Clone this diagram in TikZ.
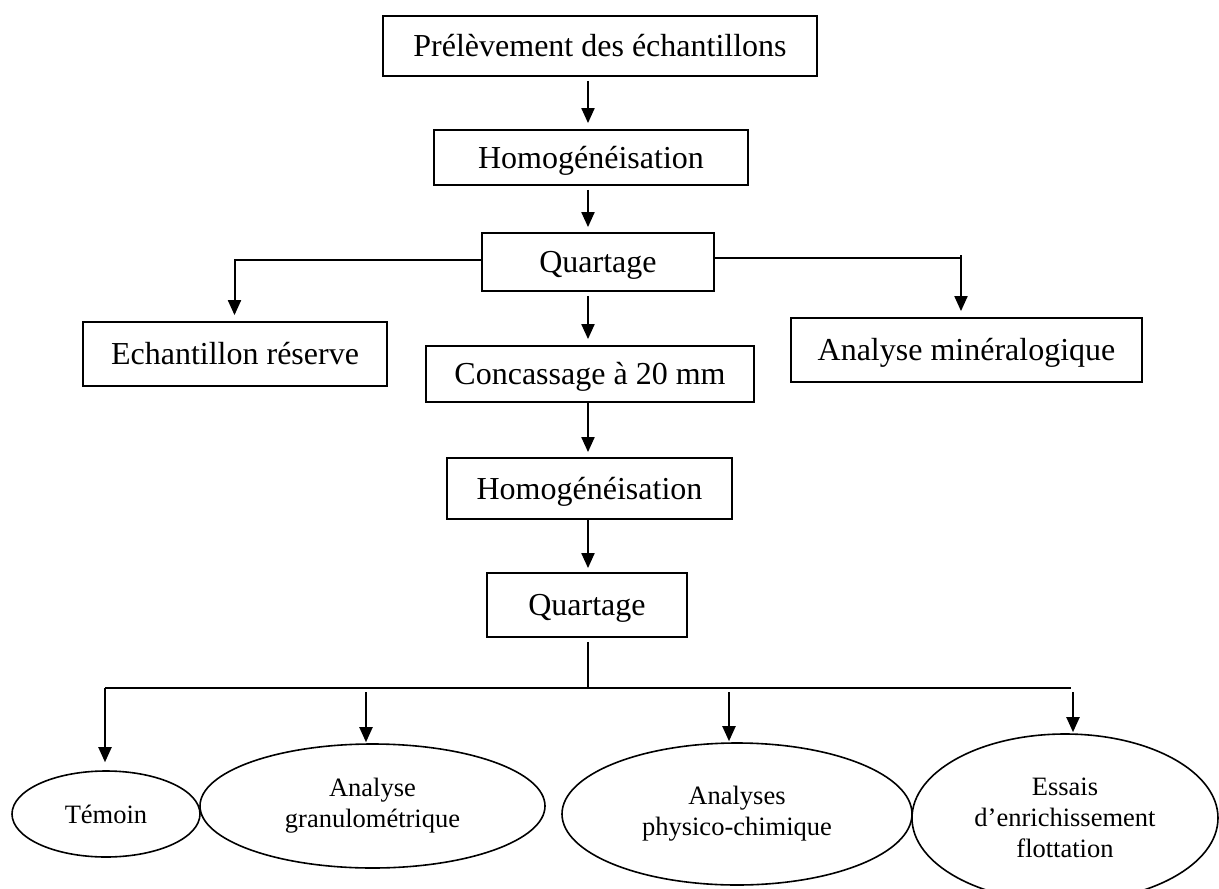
\documentclass[tikz,border=0pt]{standalone}
\usepackage{fontspec}
\setmainfont{Liberation Serif}
\usetikzlibrary{arrows.meta,shapes.geometric}
\begin{document}
\begin{tikzpicture}[x=1pt,y=-1pt,
  stepbox/.style={draw, rectangle, line width=1.8pt, inner sep=0pt,
    font=\fontsize{32}{36}\selectfont, text height=21.5pt, text depth=0pt},
  oval/.style={draw, ellipse, line width=1.6pt, inner sep=0pt, align=center,
    font=\fontsize{26.5}{31}\selectfont},
  link/.style={line width=2pt},
  arr/.style={link, -{Triangle[length=15pt,width=13pt]}}]
\useasboundingbox (0,0) rectangle (1219,889);

% main chain of boxes
\node[stepbox, minimum width=434pt, minimum height=60pt] (prel) at (600,46) {Prélèvement des échantillons};
\node[stepbox, minimum width=314pt, minimum height=55pt] (hom1) at (591,157.5) {Homogénéisation};
\node[stepbox, minimum width=232pt, minimum height=58pt] (qua1) at (598,262) {Quartage};
\node[stepbox, minimum width=304pt, minimum height=64pt] (ech) at (235,354) {Echantillon réserve};
\node[stepbox, minimum width=351pt, minimum height=64pt] (mine) at (966.5,350) {Analyse minéralogique};
\node[stepbox, minimum width=328pt, minimum height=56pt] (conc) at (590,374) {Concassage à 20 mm};
\node[stepbox, minimum width=285pt, minimum height=61pt] (hom2) at (589.5,488.5) {Homogénéisation};
\node[stepbox, minimum width=200pt, minimum height=64pt] (qua2) at (587,605) {Quartage};

% final analyses
\node[oval, minimum width=188pt, minimum height=86pt] (tem) at (106,814) {Témoin};
\node[oval, minimum width=345pt, minimum height=124pt] (gra) at (372.5,806) {Analyse\\granulométrique};
\node[oval, minimum width=350pt, minimum height=142pt] (phy) at (737,814) {Analyses\\physico-chimique};
\node[oval, minimum width=306pt, minimum height=168pt] (ess) at (1065,818) {Essais\\d’enrichissement\\flottation};

% connectors
\coordinate (spine) at (588,0);
\draw[arr, shorten <=4pt, shorten >=6pt] (prel.south -| spine) -- (hom1.north -| spine);
\draw[arr, shorten <=4pt, shorten >=5pt] (hom1.south -| spine) -- (qua1.north -| spine);

\coordinate (lt) at (234.5,260);
\draw[arr, shorten >=6pt] (qua1.west |- lt) -- (lt) -- (ech.north -| lt);
\coordinate (rt) at (961,258);
\coordinate (rtop) at (961,255);
\draw[link] (qua1.east |- rt) -- (rt);
\draw[arr, shorten >=6pt] (rtop) -- (mine.north -| rt);

\draw[arr, shorten <=4pt, shorten >=6pt] (qua1.south -| spine) -- (conc.north -| spine);
\draw[arr, shorten >=5pt] (conc.south -| spine) -- (hom2.north -| spine);
\draw[arr, shorten >=4pt] (hom2.south -| spine) -- (qua2.north -| spine);

\coordinate (bus) at (588,688);
\coordinate (busL) at (105,688);
\coordinate (busR) at (1071,688);
\draw[link, shorten <=4pt] (qua2.south -| spine) -- (bus);
\draw[link] (busL) -- (busR);
\draw[arr, shorten >=8pt] (busL) -- (tem.north -| busL);
\coordinate (g) at (366,692);
\coordinate (p) at (729,692);
\coordinate (e) at (1073,692);
\draw[arr, shorten >=1pt] (g) -- (gra.north -| g);
\draw[arr, shorten >=1pt] (p) -- (phy.north -| p);
\draw[arr, shorten >=1pt] (e) -- (ess.north -| e);
\end{tikzpicture}
\end{document}
